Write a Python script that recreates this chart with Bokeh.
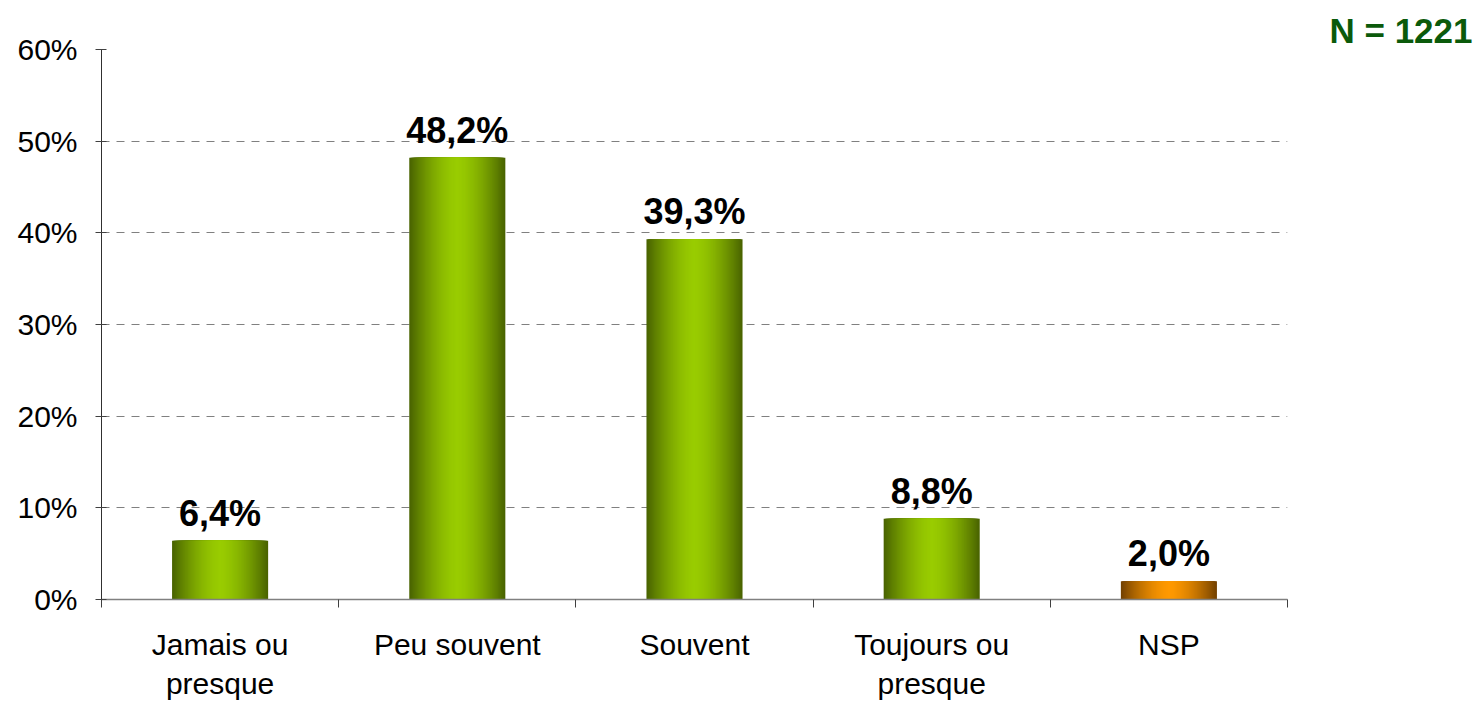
import numpy as np
from bokeh.plotting import figure
from bokeh.models import FixedTicker, ColumnDataSource, LabelSet, Title, Range1d
from bokeh.core.properties import value
from bokeh.embed import file_html
from bokeh.resources import INLINE

# ---- data ----
categories = ["Jamais ou\npresque", "Peu souvent", "Souvent", "Toujours ou\npresque", "NSP"]
values = [6.4, 48.2, 39.3, 8.8, 2.0]
value_labels = ["6,4%", "48,2%", "39,3%", "8,8%", "2,0%"]
edge_colors = ["#4a6400", "#4a6400", "#4a6400", "#4a6400", "#744200"]
center_colors = ["#99cc00", "#99cc00", "#99cc00", "#99cc00", "#ff9900"]
y_ticks = [0, 10, 20, 30, 40, 50, 60]
y_tick_labels = ["0%", "10%", "20%", "30%", "40%", "50%", "60%"]
n_label = "N = 1221"

FONT = "Liberation Sans"
BAR_W = 0.405
N_LAYERS = 40


def hex_to_rgb(h):
    h = h.lstrip("#")
    return np.array([int(h[i:i + 2], 16) for i in (0, 2, 4)], dtype=float)


def mix(c1, c2, t):
    a, b = hex_to_rgb(c1), hex_to_rgb(c2)
    c = a * t + b * (1 - t)
    return "#%02x%02x%02x" % tuple(int(round(v)) for v in c)


centers = [i + 0.5 for i in range(len(categories))]

# gradient: nested bars, from widest (dark edge) to narrowest (bright centre)
lx, ltop, lw, lcol = [], [], [], []
for k in range(N_LAYERS):
    d = 1 - k / N_LAYERS          # relative half-width of this layer
    t = d ** 1.6
    for i, v in enumerate(values):
        lx.append(centers[i])
        ltop.append(v)
        lw.append(BAR_W * d)
        lcol.append(mix(edge_colors[i], center_colors[i], t))
layers = ColumnDataSource(dict(x=lx, top=ltop, w=lw, color=lcol))

p = figure(width=1479, height=704, frame_width=1186, frame_height=550,
           x_range=Range1d(0, len(categories)), y_range=Range1d(0, 60),
           output_backend="svg", toolbar_location=None,
           min_border_left=101, min_border_top=49, min_border_right=192, min_border_bottom=105)
p.outline_line_color = None
p.background_fill_color = "white"

p.vbar(x="x", top="top", bottom=0, width="w", color="color", line_color=None, source=layers)

lab_src = ColumnDataSource(dict(x=centers, y=values, text=value_labels))
p.add_layout(LabelSet(x="x", y="y", text="text", source=lab_src, text_align="center",
                      text_baseline="alphabetic", y_offset=15, text_font=value(FONT),
                      text_font_size=value("36px"), text_font_style=value("bold"),
                      text_color=value("black")))

p.add_layout(Title(text=n_label, align="right", offset=-185, standoff=0,
                   text_font=FONT, text_font_size="35px", text_font_style="bold",
                   text_color="#0b5a0b"), "above")

# x axis
p.xaxis.ticker = FixedTicker(ticks=centers, minor_ticks=list(range(len(categories) + 1)))
p.xaxis.major_label_overrides = {c: lab for c, lab in zip(centers, categories)}
p.xaxis.major_tick_out = 0
p.xaxis.major_tick_in = 0
p.xaxis.minor_tick_out = 8
p.xaxis.minor_tick_in = 0
p.xaxis.minor_tick_line_color = "#404040"
p.xaxis.axis_line_color = "#808080"
p.xaxis.axis_line_width = 1.5
p.xaxis.major_label_standoff = 20
p.xaxis.major_label_text_font = FONT
p.xaxis.major_label_text_font_size = "30px"
p.xaxis.major_label_text_color = "black"

# y axis
p.yaxis.ticker = FixedTicker(ticks=y_ticks, minor_ticks=[])
p.yaxis.major_label_overrides = {t: lab for t, lab in zip(y_ticks, y_tick_labels)}
p.yaxis.major_tick_out = 6
p.yaxis.major_tick_in = 5
p.yaxis.major_tick_line_color = "#404040"
p.yaxis.axis_line_color = "#303030"
p.yaxis.major_label_standoff = 18
p.yaxis.major_label_text_font = FONT
p.yaxis.major_label_text_font_size = "30px"
p.yaxis.major_label_text_color = "black"

p.xgrid.grid_line_color = None
p.ygrid.ticker = FixedTicker(ticks=y_ticks[1:])
p.ygrid.grid_line_color = "#808080"
p.ygrid.grid_line_dash = "8 7"
p.ygrid.grid_line_width = 1

open("out.html", "w").write(file_html(p, INLINE))
